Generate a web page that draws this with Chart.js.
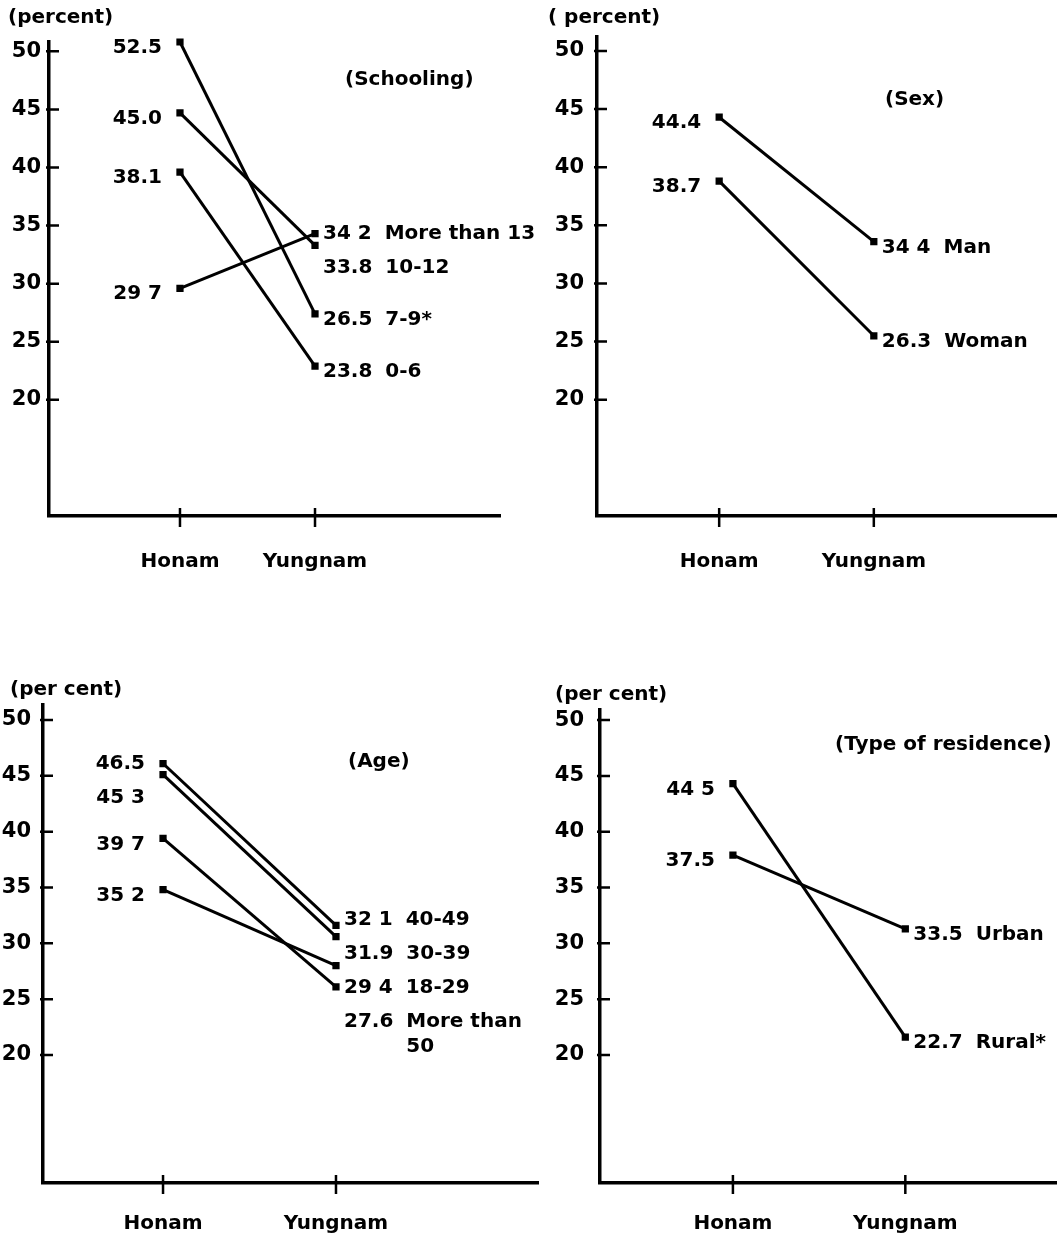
<!DOCTYPE html>
<html>
<head>
<meta charset="utf-8">
<script src="https://cdn.jsdelivr.net/npm/chart.js@4.4.1/dist/chart.umd.min.js"></script>
<style>
  body { margin: 0; background: #fff; }
  #page { position: relative; width: 1063px; height: 1238px; overflow: hidden; background: #fff; }
  #page canvas { position: absolute; }
</style>
</head>
<body>
<div id="page">
  <canvas id="schoolingChart" width="548" height="600" style="left:0;top:0"></canvas>
  <canvas id="sexChart" width="523" height="600" style="left:540px;top:0"></canvas>
  <canvas id="ageChart" width="545" height="568" style="left:0;top:670px"></canvas>
  <canvas id="residenceChart" width="523" height="568" style="left:540px;top:670px"></canvas>
</div>
<script>
const regions = ['Honam', 'Yungnam'];
const yTickValues = [20, 25, 30, 35, 40, 45, 50];

// values as plotted (Honam, Yungnam); printed labels kept as they appear
const schoolingGroups = ['More than 13', '10-12', '7-9*', '0-6'];
const schoolingValues = [[29.6, 34.3], [44.7, 33.3], [50.8, 27.4], [39.6, 22.9]];
const schoolingLabels = [['29 7', '34 2'], ['45.0', '33.8'], ['52.5', '26.5'], ['38.1', '23.8']];

const sexGroups = ['Man', 'Woman'];
const sexValues = [[44.3, 33.6], [38.8, 25.5]];
const sexLabels = [['44.4', '34 4'], ['38.7', '26.3']];

const ageGroups = ['40-49', '30-39', '18-29', 'More than\n50'];
const ageValues = [[46.1, 31.6], [45.1, 30.6], [34.8, 28.0], [39.4, 26.1]];
const ageLabels = [['46.5', '32 1'], ['45 3', '31.9'], ['35 2', '29 4'], ['39 7', '27.6']];

const residenceGroups = ['Urban', 'Rural*'];
const residenceValues = [[37.9, 31.3], [44.3, 21.6]];
const residenceLabels = [['37.5', '33.5'], ['44 5', '22.7']];

const FONT_FAMILY = '"DejaVu Sans", sans-serif';
const FONT = 'bold 20px ' + FONT_FAMILY;

function spread(items, gap) {
    items.sort((a, b) => a.y - b.y);
    const want = items.map(it => it.y);
    const clusters = [[0]];
    for (let i = 1; i < items.length; i++) {
        if (items[i].y < items[i - 1].y + gap) {
            items[i].y = items[i - 1].y + gap;
            clusters[clusters.length - 1].push(i);
        } else {
            clusters.push([i]);
        }
    }
    clusters.forEach(c => {
        if (c.length < 2) return;
        const d = c.reduce((s, i) => s + items[i].y - want[i], 0) / c.length / 2;
        c.forEach(i => { items[i].y -= d; });
    });
    return items;
}

const panelDecor = {
    id: 'panelDecor',
    afterDraw(chart, args, opts) {
        const ctx = chart.ctx;
        const xs = chart.scales.x, ys = chart.scales.y;
        const axisX = chart.chartArea.left, axisY = chart.chartArea.bottom;
        ctx.save();
        ctx.strokeStyle = '#000';
        ctx.fillStyle = '#000';
        ctx.lineWidth = 2.5;
        ctx.beginPath();
        ys.ticks.forEach(t => {
            const y = ys.getPixelForValue(t.value);
            ctx.moveTo(axisX - 3, y);
            ctx.lineTo(axisX + 10, y);
        });
        xs.ticks.forEach(t => {
            const x = xs.getPixelForValue(t.value);
            ctx.moveTo(x, axisY - 8);
            ctx.lineTo(x, axisY + 11);
        });
        ctx.stroke();

        ctx.font = FONT;
        ctx.textBaseline = 'middle';
        ctx.textAlign = 'left';
        ctx.fillText(opts.unit, opts.unitAt[0], opts.unitAt[1]);
        ctx.fillText(opts.title, opts.titleAt[0], opts.titleAt[1]);

        const left = [], right = [];
        chart.data.datasets.forEach((ds, i) => {
            const pts = chart.getDatasetMeta(i).data;
            left.push({ x: pts[0].x - 18, y: pts[0].y + 6, text: opts.valueLabels[i][0] });
            right.push({ x: pts[1].x + 8, y: pts[1].y + 6, text: opts.valueLabels[i][1], name: ds.label });
        });
        spread(left, 34);
        spread(right, 34);

        ctx.textAlign = 'right';
        left.forEach(l => ctx.fillText(l.text, l.x, l.y));

        ctx.textAlign = 'left';
        right.forEach(r => {
            ctx.fillText(r.text, r.x, r.y);
            const nx = r.x + ctx.measureText(r.text).width + 13;
            r.name.split('\n').forEach((line, k) => ctx.fillText(line, nx, r.y + k * 25));
        });
        ctx.restore();
    }
};

function makePanel(id, groups, values, labels, layout) {
    const canvas = document.getElementById(id);
    const W = canvas.width, H = canvas.height;
    new Chart(canvas, {
        type: 'line',
        data: {
            labels: regions,
            datasets: values.map((vals, i) => ({
                label: groups[i],
                data: vals.map((v, k) => ({ x: k, y: v })),
                borderColor: '#000',
                borderWidth: 3,
                pointStyle: 'rect',
                pointRadius: 3,
                pointBackgroundColor: '#000',
                pointBorderColor: '#000',
                tension: 0,
                clip: false
            }))
        },
        options: {
            responsive: false,
            animation: false,
            events: [],
            layout: {
                padding: { left: 0, top: layout.top, right: W - layout.right, bottom: 0 }
            },
            plugins: {
                legend: { display: false },
                tooltip: { enabled: false },
                panelDecor: {
                    unit: layout.unit,
                    unitAt: layout.unitAt,
                    title: layout.title,
                    titleAt: layout.titleAt,
                    valueLabels: labels
                }
            },
            scales: {
                x: {
                    type: 'linear',
                    min: layout.xMin,
                    max: layout.xMax,
                    afterBuildTicks: s => { s.ticks = regions.map((r, k) => ({ value: k })); },
                    afterFit: s => { s.height = H - layout.bottom; },
                    grid: { display: false, drawTicks: false },
                    border: { display: true, color: '#000', width: 3.5 },
                    ticks: {
                        autoSkip: false,
                        maxRotation: 0,
                        padding: layout.xPad,
                        color: '#000',
                        font: { family: FONT_FAMILY, size: 20, weight: 'bold' },
                        callback: v => regions[v]
                    }
                },
                y: {
                    min: layout.yMin,
                    max: layout.yMax,
                    afterBuildTicks: s => { s.ticks = yTickValues.map(v => ({ value: v })); },
                    afterFit: s => { s.width = layout.left; },
                    grid: { display: false, drawTicks: false },
                    border: { display: true, color: '#000', width: 3.5 },
                    ticks: {
                        padding: layout.yPad,
                        color: '#000',
                        font: { family: FONT_FAMILY, size: 21, weight: 'bold' }
                    }
                }
            }
        },
        plugins: [panelDecor]
    });
}

document.addEventListener('DOMContentLoaded', function() {
    makePanel('schoolingChart', schoolingGroups, schoolingValues, schoolingLabels, {
        left: 49, top: 42, right: 500, bottom: 516, xMin: -0.970, xMax: 2.370, yMin: 10, yMax: 50.8,
        xPad: 34, yPad: 8, unit: '(percent)', unitAt: [8, 18], title: '(Schooling)', titleAt: [345, 80]
    });
    makePanel('sexChart', sexGroups, sexValues, sexLabels, {
        left: 57, top: 37, right: 523, bottom: 516, xMin: -0.790, xMax: 2.178, yMin: 10, yMax: 51.2,
        xPad: 34, yPad: 13, unit: '( percent)', unitAt: [8, 18], title: '(Sex)', titleAt: [345, 100]
    });
    makePanel('ageChart', ageGroups, ageValues, ageLabels, {
        left: 43, top: 35, right: 538, bottom: 513, xMin: -0.694, xMax: 2.168, yMin: 8.54, yMax: 51.34,
        xPad: 29, yPad: 12, unit: '(per cent)', unitAt: [10, 20], title: '(Age)', titleAt: [348, 92]
    });
    makePanel('residenceChart', residenceGroups, residenceValues, residenceLabels, {
        left: 60, top: 40, right: 523, bottom: 513, xMin: -0.771, xMax: 1.874, yMin: 8.54, yMax: 50.9,
        xPad: 29, yPad: 16, unit: '(per cent)', unitAt: [15, 25], title: '(Type of residence)', titleAt: [295, 75]
    });
});
</script>
</body>
</html>
